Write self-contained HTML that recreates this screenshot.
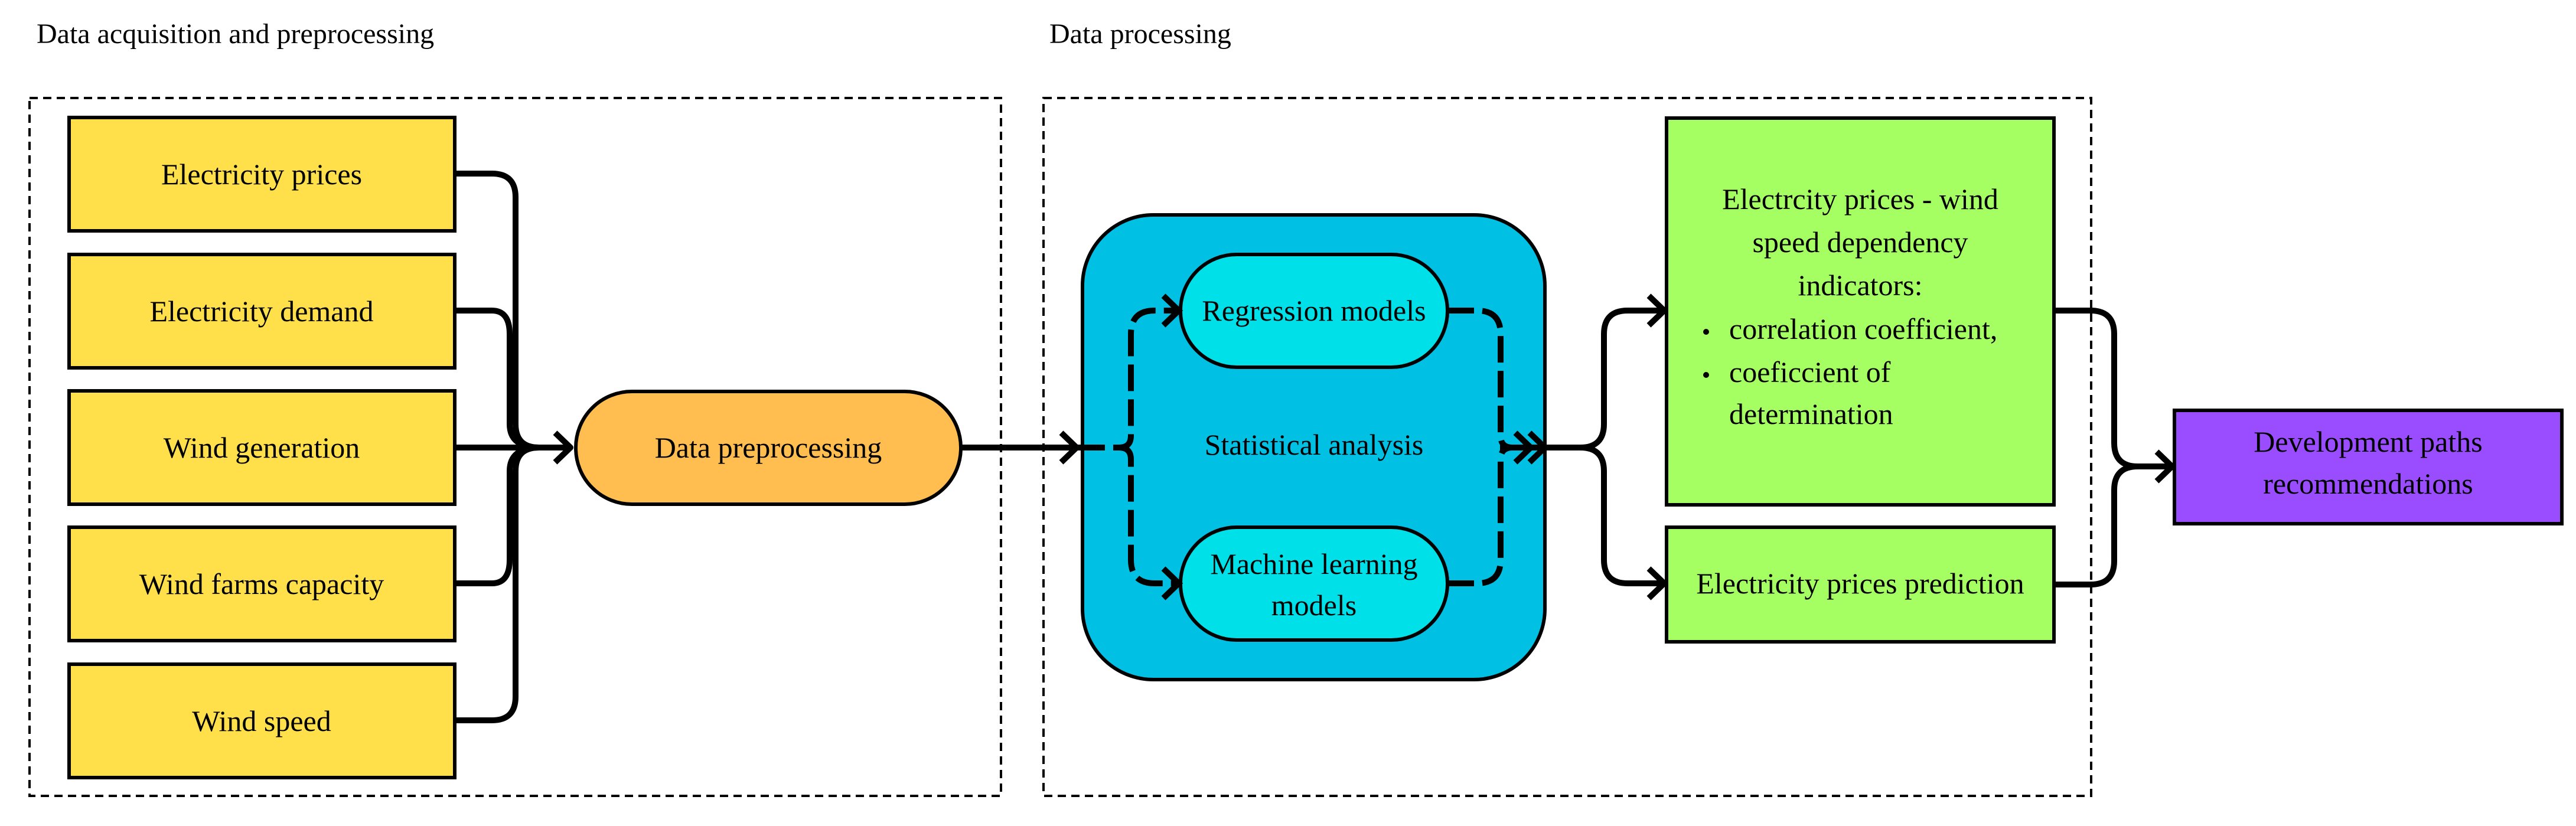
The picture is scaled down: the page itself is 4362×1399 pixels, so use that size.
<!DOCTYPE html>
<html><head><meta charset="utf-8"><style>
html,body{margin:0;padding:0;background:#fff;}
svg{display:block;}
text{font-family:"Liberation Serif",serif;fill:#000;}
</style></head><body>
<svg width="4362" height="1399" viewBox="0 0 4362 1399" xmlns="http://www.w3.org/2000/svg">
<rect width="4362" height="1399" fill="#fff"/>
<text x="62" y="73" font-size="48">Data acquisition and preprocessing</text>
<text x="1777" y="73" font-size="48">Data processing</text>
<rect x="50" y="166" width="1645" height="1182" fill="none" stroke="#000" stroke-width="4" stroke-dasharray="14 9"/>
<rect x="1767" y="166" width="1774" height="1182" fill="none" stroke="#000" stroke-width="4" stroke-dasharray="14 9"/>

<g fill="#FFE04B" stroke="#000" stroke-width="6">
<rect x="117" y="199" width="653" height="192"/>
<rect x="117" y="431" width="653" height="192"/>
<rect x="117" y="662" width="653" height="192"/>
<rect x="117" y="893" width="653" height="192"/>
<rect x="117" y="1125" width="653" height="192"/>
</g>
<g font-size="50" text-anchor="middle">
<text x="443" y="312">Electricity prices</text>
<text x="443" y="544">Electricity demand</text>
<text x="443" y="775">Wind generation</text>
<text x="443" y="1006">Wind farms capacity</text>
<text x="443" y="1238">Wind speed</text>
</g>

<g fill="none" stroke="#000" stroke-width="10" stroke-linejoin="round">
<path d="M770 294 H833 Q873 294 873 334 V718 Q873 758 913 758"/>
<path d="M770 526 H833 Q863 526 863 566 V718 Q863 758 913 758"/>
<path d="M770 758 H962"/>
<path d="M770 988 H833 Q863 988 863 948 V798 Q863 758 913 758"/>
<path d="M770 1220 H833 Q873 1220 873 1180 V798 Q873 758 913 758"/>
<polyline points="940,733 966,758 940,783"/>
</g>

<rect x="975" y="663" width="652" height="191" rx="95" fill="#FFBE4F" stroke="#000" stroke-width="6"/>
<text x="1301" y="775" font-size="50" text-anchor="middle">Data preprocessing</text>

<g fill="none" stroke="#000" stroke-width="10">
<path d="M1627 758 H1826"/>
<polyline points="1797,733 1823,758 1797,783"/>
</g>

<rect x="1833" y="364" width="783" height="787" rx="120" fill="#00C0E4" stroke="#000" stroke-width="6"/>
<rect x="1999" y="431" width="452" height="191" rx="95" fill="#00E0E8" stroke="#000" stroke-width="6"/>
<rect x="1999" y="893" width="452" height="191" rx="95" fill="#00E0E8" stroke="#000" stroke-width="6"/>
<g font-size="50" text-anchor="middle">
<text x="2225" y="543">Regression models</text>
<text x="2225" y="770">Statistical analysis</text>
<text x="2225" y="972">Machine learning</text>
<text x="2225" y="1042">models</text>
</g>

<g fill="none" stroke="#000" stroke-width="10">
<path d="M1826 758 H1895 Q1915 758 1915 738 V566 Q1915 526 1955 526 H1992" stroke-dasharray="45 14"/>
<path d="M1895 758 Q1915 758 1915 778 V948 Q1915 988 1955 988 H1992" stroke-dasharray="45 14"/>
<polyline points="1970,501 1996,526 1970,551"/>
<polyline points="1970,963 1996,988 1970,1013"/>
<path d="M2451 526 H2501 Q2541 526 2541 566 V738 Q2541 758 2561 758" stroke-dasharray="45 14"/>
<path d="M2451 988 H2501 Q2541 988 2541 948 V778 Q2541 758 2561 758" stroke-dasharray="45 14"/>
<polyline points="2566,733 2592,758 2566,783"/>
<polyline points="2590,733 2616,758 2590,783"/>
<path d="M2540 758 H2690"/>
<path d="M2616 758 H2676 Q2716 758 2716 718 V566 Q2716 526 2756 526 H2816"/>
<path d="M2676 758 Q2716 758 2716 798 V948 Q2716 988 2756 988 H2816"/>
<polyline points="2792,501 2818,526 2792,551"/>
<polyline points="2792,963 2818,988 2792,1013"/>
</g>

<rect x="2822" y="200" width="656" height="655" fill="#A6FF62" stroke="#000" stroke-width="6"/>
<rect x="2822" y="893" width="656" height="194" fill="#A6FF62" stroke="#000" stroke-width="6"/>
<g font-size="50">
<text x="3150" y="354" text-anchor="middle">Electrcity prices - wind</text>
<text x="3150" y="427" text-anchor="middle">speed dependency</text>
<text x="3150" y="500" text-anchor="middle">indicators:</text>
<text x="2928" y="574">correlation coefficient,</text>
<text x="2928" y="647">coeficcient of</text>
<text x="2928" y="718">determination</text>
<text x="3150" y="1005" text-anchor="middle">Electricity prices prediction</text>
</g>
<circle cx="2889" cy="562" r="5" fill="#000"/>
<circle cx="2889" cy="635" r="5" fill="#000"/>

<g fill="none" stroke="#000" stroke-width="10">
<path d="M3478 526 H3540 Q3580 526 3580 566 V750 Q3580 790 3620 790 H3676"/>
<path d="M3478 990 H3540 Q3580 990 3580 950 V830 Q3580 790 3620 790"/>
<polyline points="3652,765 3678,790 3652,815"/>
</g>

<rect x="3682" y="695" width="656" height="192" fill="#9A4DFF" stroke="#000" stroke-width="6"/>
<g font-size="50" text-anchor="middle">
<text x="4010" y="765">Development paths</text>
<text x="4010" y="836">recommendations</text>
</g>
</svg>
</body></html>
